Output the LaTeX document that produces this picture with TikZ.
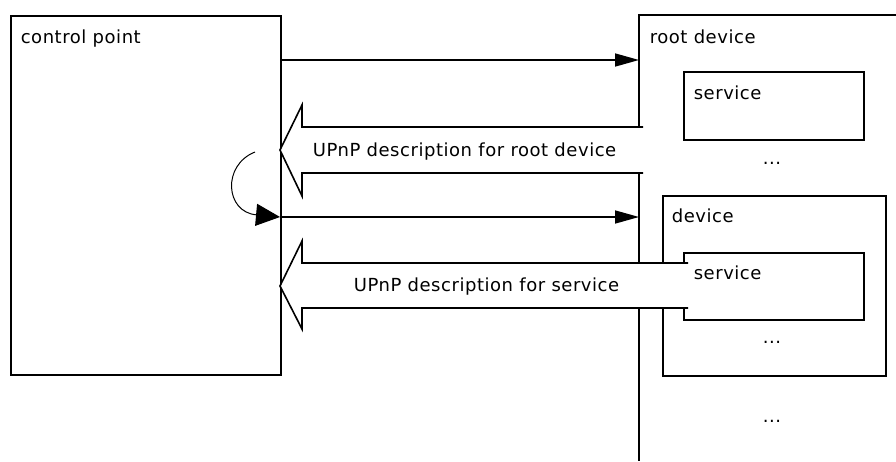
\documentclass[tikz,border=0pt]{standalone}
\usepackage{fontspec}
\setmainfont{DejaVu Sans}[LetterSpace=3]
\usetikzlibrary{arrows.meta}
\begin{document}
\begin{tikzpicture}[x=1pt,y=-1pt,
  line width=1.6pt,
  every node/.style={font=\fontsize{18}{22}\selectfont, inner sep=0pt},
  box/.style={draw, fill=white, line width=1.6pt},
  lbl/.style={anchor=base west},
  dots/.style={anchor=base},
  msg/.style={-{Triangle[length=24pt,width=13pt]}, line width=1.6pt},
  fat/.style={draw, fill=white, line width=1.6pt, line join=miter},
  loop/.style={line width=1pt, -{Triangle[length=24pt,width=22pt]}}]
\useasboundingbox (0,0) rectangle (896,461);

% control point
\node[box, anchor=north west, minimum width=270pt, minimum height=359pt] (cp) at (10,15) {};
\node[lbl] (cpl) at (20,43) {control point};

% root device: left and top edges run out of the frame
\coordinate (rdtop) at (639,15);
\coordinate (rdbot) at (639,461);
\coordinate (rdright) at (896,15);
\draw (rdright) -- (rdtop) -- (rdbot);
\node[lbl] (rdl) at (649,43) {root device};

% service of the root device
\node[box, anchor=north west, minimum width=180pt, minimum height=68pt] (rs) at (683,71) {};
\node[lbl] (rsl) at (693,99) {service};
\node[dots] (d1) at (772,164) {...};

% embedded device
\node[box, anchor=north west, minimum width=223pt, minimum height=180pt] (dev) at (662,195) {};
\node[lbl] (devl) at (671,222) {device};
\node[box, anchor=north west, minimum width=180pt, minimum height=67pt] (ds) at (683,252) {};
\node[lbl] (dsl) at (693,279) {service};
\node[dots] (d2) at (772,343) {...};
\node[dots] (d3) at (772,422) {...};

% requests from the control point
\coordinate (r1s) at (280,60);
\coordinate (r1e) at (639,60);
\coordinate (r2s) at (280,217);
\coordinate (r2e) at (639,217);
\draw[msg] (r1s) -- (r1e);
\draw[msg] (r2s) -- (r2e);

% control point reacts to the first description
\coordinate (lps) at (255,152);
\draw[loop] (lps) .. controls (222,165) and (225,212) .. (r2s);

% description for the root device
\draw[fat] (643,127) -- (302,127) -- (302,105) -- (280,150) -- (302,196) -- (302,173) -- (643,173);
\node[lbl] (f1) at (312,156) {UPnP description for root device};

% description for the service
\draw[fat] (688,263) -- (302,263) -- (302,241) -- (280,286) -- (302,329) -- (302,308) -- (688,308);
\node[lbl] (f2) at (353,291) {UPnP description for service};
\end{tikzpicture}
\end{document}
